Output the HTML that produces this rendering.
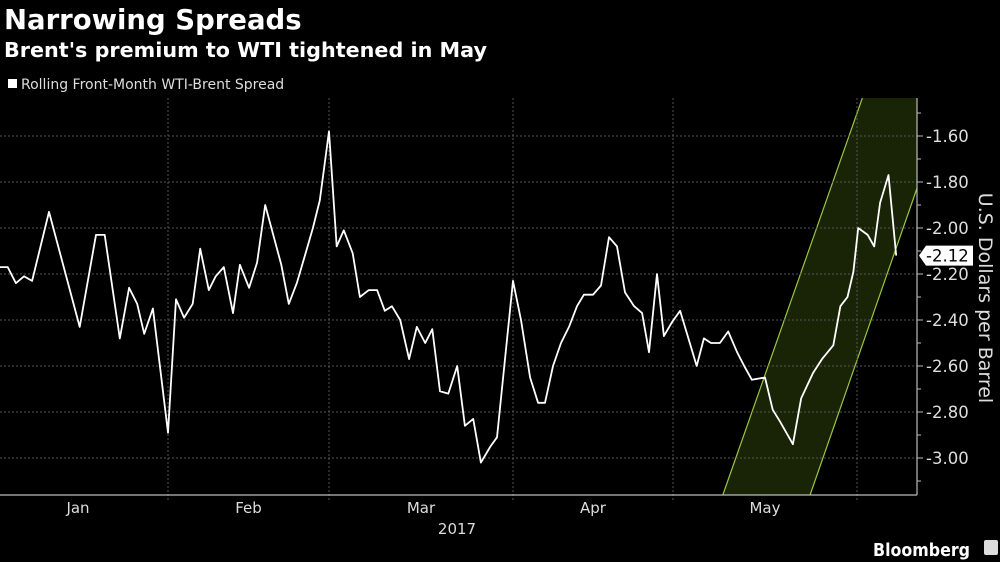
<!DOCTYPE html>
<html><head><meta charset="utf-8">
<style>
html,body{margin:0;padding:0;background:#000;width:1000px;height:562px;overflow:hidden}
svg text{font-family:"DejaVu Sans","Liberation Sans",sans-serif}
</style></head><body>
<svg id="chart" width="1000" height="562" viewBox="0 0 1000 562" xmlns="http://www.w3.org/2000/svg">
<rect x="0" y="0" width="1000" height="562" fill="#000"/>
<text x="4" y="29" fill="#fff" font-size="27.5" font-weight="bold">Narrowing Spreads</text>
<text x="4" y="57" fill="#fff" font-size="20.5" font-weight="bold" textLength="483" lengthAdjust="spacingAndGlyphs">Brent's premium to WTI tightened in May</text>
<rect x="8" y="79" width="9" height="9" fill="#fff"/>
<text x="21" y="89" fill="#ddd" font-size="14">Rolling Front-Month WTI-Brent Spread</text>
<g id="band"></g>
<g id="grid"></g>
<g id="axes"></g>
<g id="series"></g>
<text transform="translate(979,298) rotate(90)" text-anchor="middle" fill="#ddd" font-size="19">U.S. Dollars per Barrel</text>
<text x="873" y="556" fill="#fff" font-size="18" font-weight="bold" textLength="97" lengthAdjust="spacingAndGlyphs">Bloomberg</text>
<rect x="984" y="540" width="14" height="15" rx="2" fill="#ddd"/>
</svg>
<script>
// day-of-year values
const days = [3,4.4,5.8,7.2,8.6,11.5,16.8,19.6,21.1,23.7,25.3,26.7,27.9,29.4,32,
33.4,34.8,36.3,37.6,39.1,40.3,41.7,43.3,44.5,46.1,47.5,48.9,51.7,53,54.4,55.8,57.2,58.4,60,
61.3,62.5,64,65.2,66.7,68.1,69.4,70.6,72,73.5,74.8,76.2,77.4,78.7,80.1,81.6,82.9,84.3,85.6,87.2,88.3,
91,92.5,94.2,95.7,97,98.5,100,101.5,103,104.3,106,107.5,109,110.5,112,113.7,115.2,116.5,118,119.3,120.8,
122.2,125,126.2,127.4,128.9,130.3,131.8,133,134.3,136.5,137.8,139,141.2,142.6,144.6,146.1,148,149.2,150.4,151.4,
152.2,153.8,154.9,155.9,157.3,158.6];
const spread = [-2.17,-2.17,-2.24,-2.21,-2.23,-1.93,-2.43,-2.03,-2.03,-2.48,-2.26,-2.33,-2.46,-2.35,-2.89,
-2.31,-2.39,-2.33,-2.09,-2.27,-2.21,-2.17,-2.37,-2.16,-2.26,-2.15,-1.90,-2.16,-2.33,-2.24,-2.12,-2.00,-1.88,-1.58,
-2.08,-2.01,-2.11,-2.30,-2.27,-2.27,-2.36,-2.34,-2.40,-2.57,-2.43,-2.50,-2.44,-2.71,-2.72,-2.60,-2.86,-2.83,-3.02,-2.95,-2.91,
-2.23,-2.40,-2.65,-2.76,-2.76,-2.60,-2.50,-2.43,-2.34,-2.29,-2.29,-2.25,-2.04,-2.08,-2.28,-2.34,-2.37,-2.54,-2.20,-2.47,-2.41,
-2.36,-2.60,-2.48,-2.50,-2.50,-2.45,-2.54,-2.60,-2.66,-2.65,-2.79,-2.84,-2.94,-2.74,-2.63,-2.57,-2.51,-2.34,-2.30,-2.19,
-2.00,-2.03,-2.08,-1.89,-1.77,-2.12];
const yTicks = [-1.6,-1.8,-2.0,-2.2,-2.4,-2.6,-2.8,-3.0];
const yTickLabels = ["-1.60","-1.80","-2.00","-2.20","-2.40","-2.60","-2.80","-3.00"];
const monthBounds = [32,60,91,121,152];
const monthLabelDays = [16.5,46,75.5,106,136.5];
const monthLabels = ["Jan","Feb","Mar","Apr","May"];
const channelUpper = [[129.4,-3.16],[152.9,-1.435]];
const channelLower = [[144.1,-3.16],[161.3,-1.887]];
const lastLabel = "-2.12";

const PL=0, PR=917, PT=98, PB=495;
const kd=[1,32,60,91,121,152,183], kx=[-12,168,329,513,673,857,1041];
function x(d){for(let i=0;i<kd.length-1;i++){if(d<=kd[i+1]||i===kd.length-2){return kx[i]+(d-kd[i])*(kx[i+1]-kx[i])/(kd[i+1]-kd[i]);}}}
function y(v){return 136+(-1.6-v)/0.2*46;}
const NS="http://www.w3.org/2000/svg";
function mk(tag,attrs,parent){const e=document.createElementNS(NS,tag);for(const k in attrs)e.setAttribute(k,attrs[k]);parent.appendChild(e);return e;}
const grid=document.getElementById('grid'),axes=document.getElementById('axes'),series=document.getElementById('series'),band=document.getElementById('band');

function lineAt(seg,yy){const[a,b]=seg;const x1=x(a[0]),y1=y(a[1]),x2=x(b[0]),y2=y(b[1]);return x1+(yy-y1)*(x2-x1)/(y2-y1);}
function yAtX(seg,xx){const[a,b]=seg;const x1=x(a[0]),y1=y(a[1]),x2=x(b[0]),y2=y(b[1]);return y1+(xx-x1)*(y2-y1)/(x2-x1);}
const uB=lineAt(channelUpper,PB),uT=lineAt(channelUpper,PT),lB=lineAt(channelLower,PB),lR=yAtX(channelLower,PR);
let poly=mk('polygon',{points:`${uB},${PB} ${uT},${PT} ${PR},${PT} ${PR},${lR} ${lB},${PB}`,fill:'#192407'},band);


let ul=mk('line',{x1:uB,y1:PB,x2:uT,y2:PT,stroke:'#9cc53f','stroke-width':1.2},band);


let ll=mk('line',{x1:lB,y1:PB,x2:PR,y2:lR,stroke:'#9cc53f','stroke-width':1.2},band);



yTicks.forEach((v,i)=>{
  const g=mk('line',{x1:PL,y1:y(v),x2:PR,y2:y(v),stroke:'#555','stroke-width':1,'stroke-dasharray':'2,2'},grid);
  
  
  const t=mk('line',{x1:PR,y1:y(v),x2:PR+6,y2:y(v),stroke:'#bbb','stroke-width':1},axes);
  
  
  const mt=mk('line',{x1:PR,y1:y(v-0.1),x2:PR+4,y2:y(v-0.1),stroke:'#bbb','stroke-width':1},axes);
  
  
  const tx=mk('text',{x:PR+9,y:y(v)+6,fill:'#ddd','font-size':16.5},axes);
  tx.textContent=yTickLabels[i];
  
  
});
const mt0=mk('line',{x1:PR,y1:y(-1.5),x2:PR+4,y2:y(-1.5),stroke:'#bbb','stroke-width':1},axes);


monthBounds.forEach(d=>{
  const g=mk('line',{x1:x(d),y1:PT,x2:x(d),y2:PB+5,stroke:'#555','stroke-width':1,'stroke-dasharray':'2,2'},grid);
  
  
});
monthLabels.forEach((m,i)=>{
  const t=mk('text',{x:x(monthLabelDays[i]),y:513,fill:'#ddd','font-size':15,'text-anchor':'middle'},axes);
  t.textContent=m;
  
  
});
const yr=mk('text',{x:457,y:534,fill:'#ddd','font-size':15,'text-anchor':'middle'},axes);
yr.textContent='2017';


const xa=mk('line',{x1:PL,y1:PB,x2:PR,y2:PB,stroke:'#bbb','stroke-width':1.2},axes);


const ya=mk('line',{x1:PR,y1:PT,x2:PR,y2:PB,stroke:'#bbb','stroke-width':1.2},axes);



const pts=days.map((d,i)=>x(d).toFixed(1)+','+y(spread[i]).toFixed(1)).join(' ');
const pl=mk('polyline',{points:pts,fill:'none',stroke:'#fff','stroke-width':1.8,'stroke-linejoin':'round'},series);



const lv=spread[spread.length-1],ly=y(lv);
const tag=mk('polygon',{points:`${PR+2},${ly} ${PR+9},${ly-10} ${PR+56},${ly-10} ${PR+56},${ly+10} ${PR+9},${ly+10}`,fill:'#fff'},series);


const lt=mk('text',{x:PR+9,y:ly+6,fill:'#000','font-size':16.5},series);
lt.textContent=lastLabel;


</script>
</body></html>
